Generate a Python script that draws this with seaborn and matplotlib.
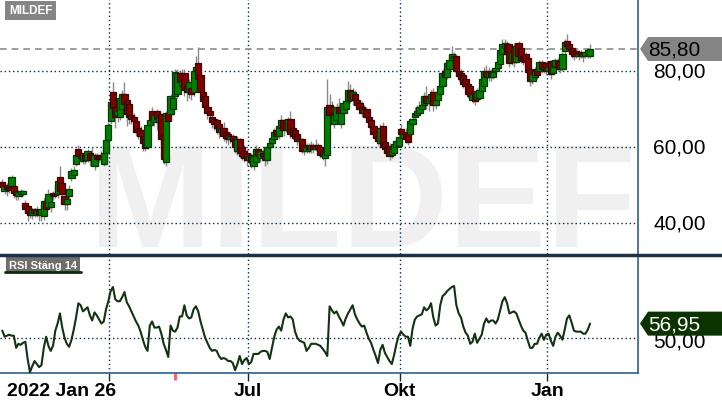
import matplotlib

matplotlib.use("Agg")

import matplotlib.patches as mpatches
import matplotlib.pyplot as plt
import numpy as np
import pandas as pd
import seaborn as sns
from matplotlib.lines import Line2D
from matplotlib.transforms import IdentityTransform


TICKER = "MILDEF"
RSI_TITLE = "RSI Stäng 14"
START, END = "2022-01-26", "2023-01-27"
# Stockholmsbörsen stängd
HOLIDAYS = ["2022-04-15", "2022-04-18", "2022-05-26", "2022-06-06",
            "2022-06-24", "2022-12-26", "2023-01-06"]

OPENS = [
    50.8, 48.5, 50.0, 49.5, 49.7, 49.7, 48.5, 47.0, 47.5, 47.5,
    45.3, 44.5, 43.0, 42.0, 43.6, 42.2, 43.3, 42.2, 41.8, 45.8,
    44.2, 44.2, 48.0, 48.0, 47.6, 52.0, 50.5, 47.0, 45.0, 47.0,
    51.8, 52.5, 55.5, 59.5, 58.5, 56.3, 58.0, 56.5, 58.5, 58.0,
    55.0, 58.0, 57.6, 57.5, 55.5, 58.4, 61.8, 66.8, 74.5, 70.5,
    68.5, 68.0, 70.0, 74.0, 72.4, 71.3, 68.5, 68.0, 66.8, 65.0,
    64.5, 63.0, 62.0, 60.0, 65.8, 69.5, 66.5, 69.5, 66.5, 68.7,
    63.4, 56.0, 69.0, 68.7, 70.0, 73.4, 74.0, 79.5, 76.0, 79.5,
    76.0, 74.5, 75.5, 74.5, 80.0, 82.0, 79.0, 74.5, 73.5, 70.5,
    69.5, 68.0, 67.5, 67.0, 66.0, 64.0, 65.0, 64.0, 63.5, 62.0,
    63.0, 62.0, 59.0, 62.0, 60.0, 59.0, 58.5, 56.5, 58.0, 55.0,
    56.0, 59.5, 57.0, 58.5, 57.5, 56.5, 60.0, 61.0, 62.0, 64.5,
    63.0, 65.0, 67.0, 66.5, 64.5, 67.5, 65.0, 64.5, 63.5, 61.5,
    62.0, 60.5, 59.0, 60.0, 59.5, 60.5, 59.5, 60.5, 60.0, 59.0,
    57.0, 58.0, 71.0, 70.5, 66.0, 67.0, 70.5, 66.0, 69.0, 70.0,
    72.0, 75.0, 72.5, 74.0, 72.5, 71.5, 70.5, 69.0, 70.0, 68.0,
    67.0, 65.5, 64.0, 63.0, 61.0, 65.5, 61.3, 60.0, 60.3, 58.0,
    58.5, 60.0, 60.3, 64.7, 62.5, 64.0, 63.4, 63.4, 66.0, 68.0,
    68.5, 69.0, 70.0, 71.0, 73.5, 71.5, 72.0, 74.5, 71.0, 72.5,
    74.0, 76.0, 80.0, 78.5, 80.5, 83.0, 83.5, 84.0, 80.0, 79.5,
    79.0, 77.9, 76.6, 76.0, 72.5, 74.0, 72.6, 73.0, 74.7, 76.0,
    80.0, 78.4, 80.0, 78.5, 80.0, 80.8, 81.8, 84.5, 86.0, 87.0,
    87.0, 82.5, 86.0, 82.5, 87.5, 86.0, 84.0, 84.5, 83.4, 80.5,
    77.4, 78.5, 80.5, 80.0, 82.4, 80.5, 82.0, 80.0, 82.6, 79.5,
    81.3, 82.6, 82.6, 80.5, 85.3, 88.0, 87.0, 86.0, 85.3, 85.3,
    84.0, 85.0, 84.0, 84.0, 84.2, 84.0,
]
CLOSES = [
    49.5, 49.7, 49.0, 48.6, 52.0, 47.8, 47.3, 48.2, 48.3, 48.3,
    43.7, 42.6, 42.0, 43.6, 42.5, 43.3, 42.4, 43.7, 45.8, 43.7,
    47.6, 45.5, 47.0, 47.3, 51.0, 48.4, 47.5, 45.0, 46.3, 49.0,
    53.7, 54.0, 58.0, 57.6, 57.0, 58.0, 56.5, 59.0, 56.5, 57.0,
    58.0, 56.8, 56.8, 56.8, 58.4, 61.8, 65.8, 71.8, 70.3, 68.0,
    69.5, 73.0, 74.0, 71.3, 68.7, 68.0, 67.5, 66.8, 64.0, 64.0,
    63.0, 61.0, 59.7, 65.8, 67.0, 67.4, 68.5, 67.4, 68.0, 62.0,
    56.8, 69.0, 66.8, 73.4, 73.0, 79.7, 79.5, 77.0, 77.5, 75.0,
    74.5, 77.0, 74.0, 80.0, 81.0, 78.0, 74.5, 72.0, 70.5, 69.0,
    68.5, 66.5, 66.0, 65.0, 64.0, 65.0, 63.0, 62.5, 62.0, 63.0,
    61.5, 60.0, 62.0, 58.5, 57.5, 57.0, 56.5, 57.5, 56.0, 57.5,
    59.5, 57.5, 59.0, 57.5, 56.5, 60.0, 61.0, 62.5, 64.0, 63.0,
    65.5, 67.0, 64.5, 65.0, 67.5, 63.5, 63.0, 62.5, 61.5, 62.0,
    59.0, 59.0, 60.0, 59.5, 60.5, 59.5, 60.0, 59.5, 58.0, 57.5,
    58.5, 70.5, 68.5, 69.0, 68.5, 70.5, 69.0, 69.0, 71.5, 72.0,
    75.0, 72.5, 74.5, 72.5, 71.0, 70.0, 69.0, 70.0, 68.0, 66.6,
    65.3, 63.5, 62.5, 61.6, 65.0, 60.0, 59.5, 58.5, 57.6, 59.5,
    60.8, 61.5, 62.6, 63.4, 63.5, 62.0, 61.3, 66.8, 67.5, 69.0,
    69.5, 70.5, 71.0, 73.4, 71.5, 73.0, 74.0, 71.0, 72.5, 74.5,
    76.0, 79.5, 78.5, 82.0, 83.0, 84.5, 84.0, 80.0, 78.7, 78.0,
    76.6, 76.0, 74.0, 73.5, 74.0, 72.0, 74.7, 75.0, 78.0, 80.0,
    78.5, 79.7, 78.5, 79.7, 80.8, 82.4, 85.5, 87.0, 87.5, 84.5,
    82.0, 85.0, 82.5, 86.5, 84.0, 83.0, 82.6, 82.4, 79.7, 77.4,
    79.2, 80.0, 79.0, 82.4, 80.5, 81.0, 80.0, 81.0, 79.2, 81.0,
    83.0, 81.0, 80.5, 84.5, 87.6, 86.6, 85.8, 84.5, 84.0, 84.5,
    84.5, 84.0, 84.5, 85.0, 85.5, 85.8,
]
HIGHS = [
    51.5, 50.3, 50.5, 50.0, 52.5, 50.2, 49.0, 48.8, 49.0, 48.8,
    46.0, 45.0, 43.5, 44.0, 44.0, 44.5, 43.8, 45.0, 46.5, 46.8,
    49.0, 46.0, 48.5, 50.0, 52.0, 55.0, 52.0, 48.0, 47.5, 50.0,
    54.5, 55.0, 59.0, 60.5, 59.0, 58.5, 59.0, 59.5, 59.0, 60.0,
    58.5, 58.5, 58.0, 59.0, 59.0, 62.5, 66.5, 73.0, 77.0, 71.0,
    70.5, 74.0, 75.0, 77.0, 73.0, 72.0, 69.5, 69.0, 68.0, 66.0,
    65.5, 64.0, 63.0, 66.5, 68.0, 70.5, 69.0, 70.0, 69.5, 69.0,
    64.0, 69.5, 70.0, 74.0, 74.5, 80.5, 80.5, 80.0, 80.5, 80.5,
    77.0, 78.0, 76.0, 81.0, 84.0, 86.3, 80.0, 75.5, 74.0, 71.5,
    70.5, 69.0, 68.0, 67.5, 67.0, 66.0, 66.5, 65.0, 64.0, 64.0,
    63.5, 62.5, 63.0, 62.5, 61.0, 60.5, 59.5, 58.5, 58.5, 58.0,
    60.5, 60.0, 59.5, 59.5, 58.0, 60.5, 62.0, 63.5, 65.0, 65.5,
    66.0, 68.5, 67.5, 67.0, 68.0, 69.5, 66.0, 65.0, 64.0, 63.0,
    62.5, 61.0, 61.0, 61.0, 61.5, 61.0, 62.0, 61.0, 60.5, 59.5,
    59.0, 78.0, 74.0, 72.0, 70.0, 71.5, 73.0, 70.0, 72.5, 73.5,
    77.5, 76.5, 75.5, 75.0, 74.0, 72.5, 72.0, 71.0, 70.5, 69.0,
    67.5, 66.5, 65.0, 64.0, 66.0, 66.5, 62.0, 61.0, 61.0, 60.5,
    61.5, 62.5, 64.0, 66.0, 64.5, 65.0, 64.5, 67.5, 69.0, 70.5,
    71.0, 72.0, 72.5, 74.5, 76.0, 74.0, 75.0, 75.5, 73.5, 75.5,
    77.5, 80.5, 81.0, 83.0, 84.0, 86.5, 85.0, 84.5, 81.0, 80.5,
    79.5, 78.5, 77.5, 76.5, 75.0, 74.5, 75.5, 76.0, 79.0, 81.0,
    81.5, 81.0, 80.5, 81.0, 82.0, 83.5, 86.5, 88.5, 88.5, 88.0,
    87.5, 86.0, 87.5, 87.5, 88.0, 86.5, 85.0, 85.0, 84.0, 81.0,
    80.0, 81.0, 81.0, 83.0, 83.0, 82.0, 82.5, 82.0, 83.0, 82.0,
    83.5, 83.5, 83.0, 85.0, 88.5, 89.7, 88.0, 86.5, 86.0, 86.0,
    85.5, 85.5, 85.0, 85.5, 86.0, 87.0,
]
LOWS = [
    48.5, 47.5, 47.0, 47.8, 49.0, 46.5, 46.0, 46.0, 46.8, 47.0,
    42.5, 40.5, 41.2, 41.0, 41.5, 41.5, 40.5, 40.5, 40.8, 43.0,
    43.8, 43.0, 46.0, 46.5, 46.5, 47.5, 46.0, 43.5, 43.5, 46.0,
    51.0, 52.0, 55.0, 57.0, 56.0, 55.5, 55.5, 56.0, 55.0, 56.5,
    54.0, 55.5, 56.0, 56.0, 55.0, 57.5, 61.0, 66.0, 69.5, 65.0,
    66.5, 67.0, 69.5, 70.5, 65.5, 66.0, 66.0, 65.5, 63.0, 62.0,
    61.0, 59.0, 59.0, 59.5, 64.0, 66.0, 65.5, 64.5, 63.5, 60.5,
    55.5, 55.0, 64.0, 68.0, 68.5, 72.5, 73.0, 75.0, 75.0, 73.5,
    72.0, 73.0, 72.5, 73.5, 78.0, 77.0, 73.0, 70.5, 69.0, 67.5,
    66.5, 65.0, 64.5, 63.5, 62.5, 63.0, 61.5, 61.0, 60.5, 61.0,
    60.0, 58.5, 58.0, 57.0, 56.5, 56.0, 55.0, 55.5, 54.5, 54.0,
    55.5, 56.5, 56.0, 56.5, 55.0, 55.5, 59.0, 60.0, 61.0, 62.0,
    62.0, 64.5, 63.0, 64.0, 64.0, 62.5, 62.0, 61.5, 60.5, 60.5,
    58.5, 58.0, 58.5, 58.5, 58.5, 58.5, 59.0, 58.0, 57.0, 56.5,
    55.0, 57.0, 67.5, 66.0, 65.0, 66.0, 68.0, 65.0, 68.0, 69.0,
    71.0, 71.5, 71.0, 71.0, 70.0, 69.0, 68.0, 68.0, 67.0, 65.5,
    64.0, 62.5, 61.5, 60.5, 60.5, 59.5, 58.5, 57.5, 56.5, 57.0,
    58.0, 59.5, 60.0, 62.5, 62.0, 61.0, 60.5, 63.0, 65.5, 66.5,
    68.0, 68.5, 69.5, 70.5, 70.0, 69.5, 71.0, 69.5, 70.0, 72.0,
    73.5, 75.5, 77.5, 78.0, 80.0, 82.5, 82.5, 79.0, 77.5, 77.0,
    75.5, 75.0, 73.0, 72.5, 71.5, 71.0, 72.0, 72.5, 74.0, 75.5,
    77.5, 77.5, 77.5, 78.0, 79.0, 80.0, 81.0, 84.0, 85.5, 83.5,
    81.0, 81.5, 81.0, 82.0, 83.0, 82.0, 81.5, 81.0, 78.5, 76.0,
    76.5, 77.5, 78.0, 79.5, 79.5, 79.5, 79.0, 79.0, 78.0, 79.0,
    80.5, 80.0, 79.5, 80.0, 84.5, 85.5, 85.0, 83.5, 83.0, 83.5,
    83.0, 83.5, 82.5, 83.5, 83.5, 83.5,
]
RSI = [
    53.5, 50.5, 51.0, 51.5, 51.0, 51.0, 45.0, 47.0, 46.5, 47.5,
    48.0, 39.5, 33.0, 36.0, 38.5, 37.0, 35.5, 36.5, 45.0, 50.5,
    46.0, 43.5, 46.0, 53.5, 57.0, 62.0, 55.0, 50.0, 47.0, 45.5,
    49.0, 54.0, 60.0, 67.0, 66.0, 63.0, 64.0, 65.0, 61.0, 58.5,
    62.5, 61.0, 59.0, 57.0, 58.0, 64.0, 68.0, 73.0, 75.0, 69.0,
    68.0, 68.0, 70.0, 72.5, 67.5, 65.5, 63.0, 60.5, 58.0, 56.0,
    53.0, 49.0, 45.5, 43.5, 56.0, 58.0, 55.0, 55.0, 55.5, 52.0,
    47.0, 44.0, 40.5, 56.0, 53.5, 53.0, 55.0, 60.5, 60.5, 66.0,
    61.0, 59.5, 60.0, 64.0, 65.5, 63.0, 58.0, 54.0, 50.0, 47.5,
    45.0, 43.5, 44.0, 43.5, 41.0, 39.5, 40.0, 39.5, 38.5, 38.5,
    37.5, 34.0, 37.0, 41.0, 37.0, 39.0, 40.0, 37.0, 38.0, 42.0,
    42.0, 42.0, 43.0, 43.5, 43.5, 43.0, 39.5, 45.0, 50.5, 54.0,
    55.5, 53.5, 59.0, 62.0, 60.0, 60.5, 59.0, 53.0, 50.0, 48.5,
    48.0, 47.5, 43.5, 45.0, 47.0, 47.0, 47.0, 46.5, 46.0, 44.5,
    43.0, 41.0, 65.5, 63.5, 62.0, 63.0, 60.5, 58.5, 56.0, 59.5,
    62.0, 64.0, 66.0, 61.5, 59.0, 57.0, 55.5, 56.0, 52.5, 49.5,
    47.5, 44.0, 41.0, 37.5, 44.0, 46.5, 42.5, 40.5, 38.5, 37.0,
    41.5, 47.0, 51.0, 53.0, 51.5, 50.5, 50.5, 46.0, 54.5, 59.0,
    60.5, 61.0, 61.5, 65.0, 63.5, 64.5, 67.0, 60.0, 56.0, 57.0,
    66.0, 70.5, 71.5, 73.0, 74.0, 75.0, 75.5, 66.0, 62.0, 60.0,
    55.5, 52.5, 51.0, 47.0, 48.0, 52.0, 47.5, 49.5, 51.5, 57.0,
    59.5, 57.5, 58.5, 58.5, 57.0, 59.0, 63.5, 68.0, 70.0, 67.0,
    62.0, 62.5, 63.0, 62.0, 59.0, 56.0, 53.5, 52.5, 48.5, 45.0,
    45.0, 47.0, 47.0, 50.0, 52.0, 49.0, 51.5, 52.0, 48.5, 46.0,
    50.5, 52.5, 51.0, 49.0, 54.0, 59.5, 61.0, 57.5, 53.5, 53.0,
    53.0, 53.0, 52.0, 52.0, 54.0, 56.95,
]

PRICE_TICKS = [40, 60, 80]
PRICE_LABELS = ["40,00", "60,00", "80,00"]
RSI_TICKS = [50]
RSI_LABELS = ["50,00"]
MONTH_DATES = ["2022-04-01", "2022-07-01", "2022-10-03", "2023-01-02"]
MONTH_LABELS = ["", "Jul", "Okt", "Jan"]
FIRST_LABEL = "2022 Jan 26"
EVENT_DATE = "2022-05-13"
LAST_PRICE_TEXT = "85,80"
LAST_RSI_TEXT = "56,95"

W, H = 722, 410
UP, DOWN = "#008000", "#800000"
UP_EDGE, DOWN_EDGE = "#063806", "#3a0505"
GRID = "#0b2a45"
FRAME = "#2f5f8a"


def _frame() -> pd.DataFrame:
    dates = pd.bdate_range(START, END)
    dates = dates[~dates.isin(pd.to_datetime(HOLIDAYS))][: len(CLOSES)]
    data = pd.DataFrame({"date": dates, "open": OPENS, "high": HIGHS,
                         "low": LOWS, "close": CLOSES, "rsi": RSI})
    data["pos"] = np.arange(len(data))
    return data


def _value_tag(fig, ax, value, text, face, color):
    _, y = ax.transData.transform((0, value))
    x0 = ax.transAxes.transform((1, 0))[0] + 2
    h = 12
    pts = [(x0, y), (x0 + 8, y + h), (W, y + h), (W, y - h), (x0 + 8, y - h)]
    fig.add_artist(mpatches.Polygon(pts, closed=True, transform=IdentityTransform(),
                                    facecolor=face, edgecolor="none", zorder=6))
    fig.text((x0 + 8) / W, y / H, text, fontsize=15, color=color,
             ha="left", va="center", zorder=7)


def main() -> None:
    sns.set_theme(style="white", rc={"axes.facecolor": "white", "figure.facecolor": "white"})
    plt.rcParams["font.family"] = ["Liberation Sans", "DejaVu Sans"]

    data = _frame()
    month_pos = [int(np.searchsorted(data["date"], pd.Timestamp(d))) - 0.5 for d in MONTH_DATES]
    event_pos = int(np.searchsorted(data["date"], pd.Timestamp(EVENT_DATE)))
    xlim = (-1.0, 275.8)

    fig = plt.figure(figsize=(W / 100, H / 100), dpi=100)
    ax = fig.add_axes([0, 1 - 255 / H, 638 / W, 255 / H])
    ax_rsi = fig.add_axes([0, 1 - 374 / H, 638 / W, (374 - 257) / H], sharex=ax)

    # --- pris ---
    ax.text(88 / 638, 8 / 255, TICKER, transform=ax.transAxes, fontsize=106,
            fontweight="bold", color="#f0f0f0", ha="left", va="baseline", zorder=0)
    for level in PRICE_TICKS:
        ax.axhline(level, color=GRID, ls=(0, (1, 2)), lw=1, zorder=1)
    for pos in month_pos:
        ax.axvline(pos, color=GRID, ls=(0, (1, 2)), lw=1, zorder=1)
    ax.axhline(data["close"].iloc[-1], color="#8c8c8c", ls=(0, (4, 3)), lw=1.2, zorder=1)

    up = data["close"] >= data["open"]
    ax.vlines(data["pos"], data["low"], data["high"], color="#8a8a8a", lw=1, zorder=2)
    ax.bar(data["pos"], data["close"] - data["open"], bottom=data["open"], width=2.7,
           color=np.where(up, UP, DOWN), edgecolor=np.where(up, UP_EDGE, DOWN_EDGE),
           linewidth=0.9, zorder=3)

    ax.set_xlim(*xlim)
    ax.set_ylim(31.84, 98.95)
    ax.set_xticks([])
    ax.set_yticks([])
    for side in ["top", "left", "bottom"]:
        ax.spines[side].set_visible(False)
    ax.spines["right"].set_color(FRAME)
    ax.spines["right"].set_linewidth(1.2)

    for level, label in zip(PRICE_TICKS, PRICE_LABELS):
        ax.text(653 / 638, level, label, transform=ax.get_yaxis_transform(),
                fontsize=15, ha="left", va="center", color="black", clip_on=False)
    ax.text(9 / 638, 1 - 11.5 / 255, TICKER, transform=ax.transAxes, fontsize=8.5,
            fontweight="bold", color="white", ha="left", va="center",
            bbox=dict(boxstyle="square,pad=0.3", fc="#858585", ec="none"), zorder=5)

    # --- RSI ---
    for level in RSI_TICKS:
        ax_rsi.axhline(level, color=GRID, ls=(0, (1, 2)), lw=1, zorder=1)
    for pos in month_pos:
        ax_rsi.axvline(pos, color=GRID, ls=(0, (1, 2)), lw=1, zorder=1)
    sns.lineplot(data=data, x="pos", y="rsi", ax=ax_rsi, color="#123212", lw=1.5, zorder=3)
    ax_rsi.set_ylim(32.6, 90.3)
    ax_rsi.set_xlim(*xlim)
    ax_rsi.set_xlabel("")
    ax_rsi.set_ylabel("")
    ax_rsi.set_yticks([])
    ax_rsi.set_xticks(month_pos)
    ax_rsi.set_xticklabels([])
    ax_rsi.tick_params(axis="x", length=6, width=1, color=GRID, bottom=True)
    for side in ["top", "left"]:
        ax_rsi.spines[side].set_visible(False)
    for side in ["right", "bottom"]:
        ax_rsi.spines[side].set_color(FRAME)
        ax_rsi.spines[side].set_linewidth(1.2)
    ax_rsi.vlines(event_pos, -0.06, 0, transform=ax_rsi.get_xaxis_transform(),
                  colors="#ff5a5a", lw=2, clip_on=False)

    # 50,00 ligger under RSI-taggen, precis som i originalet
    for level, label in zip(RSI_TICKS, RSI_LABELS):
        ax_rsi.text(653 / 638, level - 1.5, label, transform=ax_rsi.get_yaxis_transform(),
                    fontsize=15, ha="left", va="center", color="black", clip_on=False)
    ax_rsi.text(9 / 638, 1 - 9 / 117, RSI_TITLE, transform=ax_rsi.transAxes, fontsize=8,
                fontweight="bold", color="white", ha="left", va="center",
                bbox=dict(boxstyle="square,pad=0.3", fc="#6e6e6e", ec="none"), zorder=5)
    fig.add_artist(Line2D([5 / W, 81 / W], [1 - 273 / H, 1 - 273 / H],
                          transform=fig.transFigure, color="#0d2a10", lw=2))

    label_y = (374 - 392) / 117
    ax_rsi.text(7 / 638, label_y, FIRST_LABEL, transform=ax_rsi.transAxes, fontsize=14,
                fontweight="bold", ha="left", va="center", color="black")
    for pos, label in zip(month_pos, MONTH_LABELS):
        ax_rsi.text(pos, label_y, label, transform=ax_rsi.get_xaxis_transform(),
                    fontsize=14, fontweight="bold", ha="center", va="center", color="black")

    # separator mellan panelerna
    fig.add_artist(Line2D([0, 1], [1 - 255.5 / H, 1 - 255.5 / H],
                          transform=fig.transFigure, color="#1c3345", lw=2.5))

    _value_tag(fig, ax, data["close"].iloc[-1], LAST_PRICE_TEXT, "#858585", "black")
    _value_tag(fig, ax_rsi, data["rsi"].iloc[-1], LAST_RSI_TEXT, "#0a3300", "white")

    fig.savefig("out.png", dpi=100)
    plt.close(fig)


if __name__ == "__main__":
    main()
